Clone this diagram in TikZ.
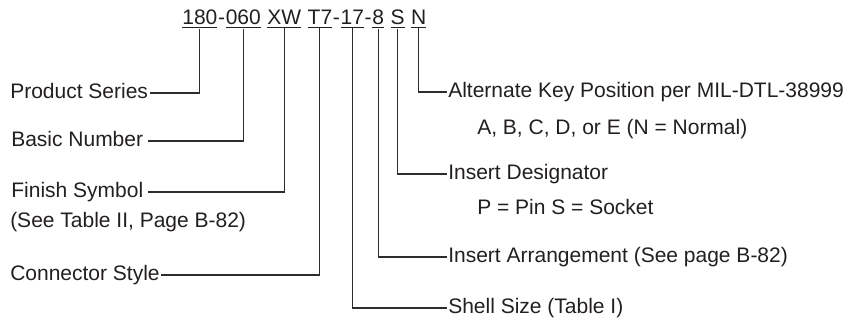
\documentclass[tikz,border=0pt]{standalone}
\usepackage{fontspec}
\setmainfont{Liberation Sans}
\usepackage{tikz}
\usetikzlibrary{positioning}
\definecolor{pnInk}{RGB}{35,31,32}
\definecolor{pnLine}{RGB}{45,45,45}

\begin{document}
\begin{tikzpicture}[x=0.02cm, y=-0.02cm,
  every node/.style={font=\fontsize{11.95}{14}\selectfont, text=pnInk, inner sep=0pt},
  field/.style={anchor=base west},
  lbl/.style={anchor=west, outer sep=1pt, text height=8.4pt, text depth=2.4pt},
  lead/.style={draw=pnLine, line width=0.6pt}]
\useasboundingbox (0,0) rectangle (854,322);
% part number, one node per field
\node[field] (s180) at (182,24.5) {\underline{180}};
\node[field] (d1) at (s180.base east) {-};
\node[field] (s060) at (d1.base east) {\underline{060}};
\node[field] (sXW) at ([xshift=3.32pt]s060.base east) {\underline{XW}};
\node[field] (sT7) at ([xshift=3.32pt]sXW.base east) {\underline{T7}};
\node[field] (d2) at (sT7.base east) {-};
\node[field] (s17) at (d2.base east) {\underline{17}};
\node[field] (d3) at (s17.base east) {-};
\node[field] (s8) at (d3.base east) {\underline{8}};
\node[field] (sS) at ([xshift=3.32pt]s8.base east) {\underline{S}};
\node[field] (sN) at ([xshift=3.32pt]sS.base east) {\underline{N}};
% labels on the left
\node[lbl] (ps) at (8.5,93) {Product Series};
\node[lbl, outer xsep=3pt] (bn) at (6,141) {Basic Number};
\node[lbl, outer xsep=2.5pt] (fs) at (7,192) {Finish Symbol};
\node[lbl] (fsv) at (8.5,222) {(See Table II, Page B-82)};
\node[lbl] (cs) at (8.5,275) {Connector Style};
% labels on the right
\node[lbl] (ak) at (446.5,92) {Alternate Key Position per MIL-DTL-38999};
\node[lbl] (akv) at (475.5,129) {A, B, C, D, or E (N = Normal)};
\node[lbl] (id) at (446.5,174) {Insert Designator};
\node[lbl] (idv) at (475.5,209.5) {P = Pin S = Socket};
\node[lbl] (ia) at (446.5,257) {Insert Arrangement (See page B-82)};
\node[lbl] (sh) at (446.5,308) {Shell Size (Table I)};
% leader lines
\draw[lead] (s180.south) |- (ps.east);
\draw[lead] (s060.south) |- (bn.east);
\draw[lead] (sXW.south) |- (fs.east);
\draw[lead] (sT7.south) |- (cs.east);
\draw[lead] (s17.south) |- (sh.west);
\draw[lead] (s8.south) |- (ia.west);
\draw[lead] (sS.south) |- (id.west);
\draw[lead] (sN.south) |- (ak.west);
\end{tikzpicture}
\end{document}
